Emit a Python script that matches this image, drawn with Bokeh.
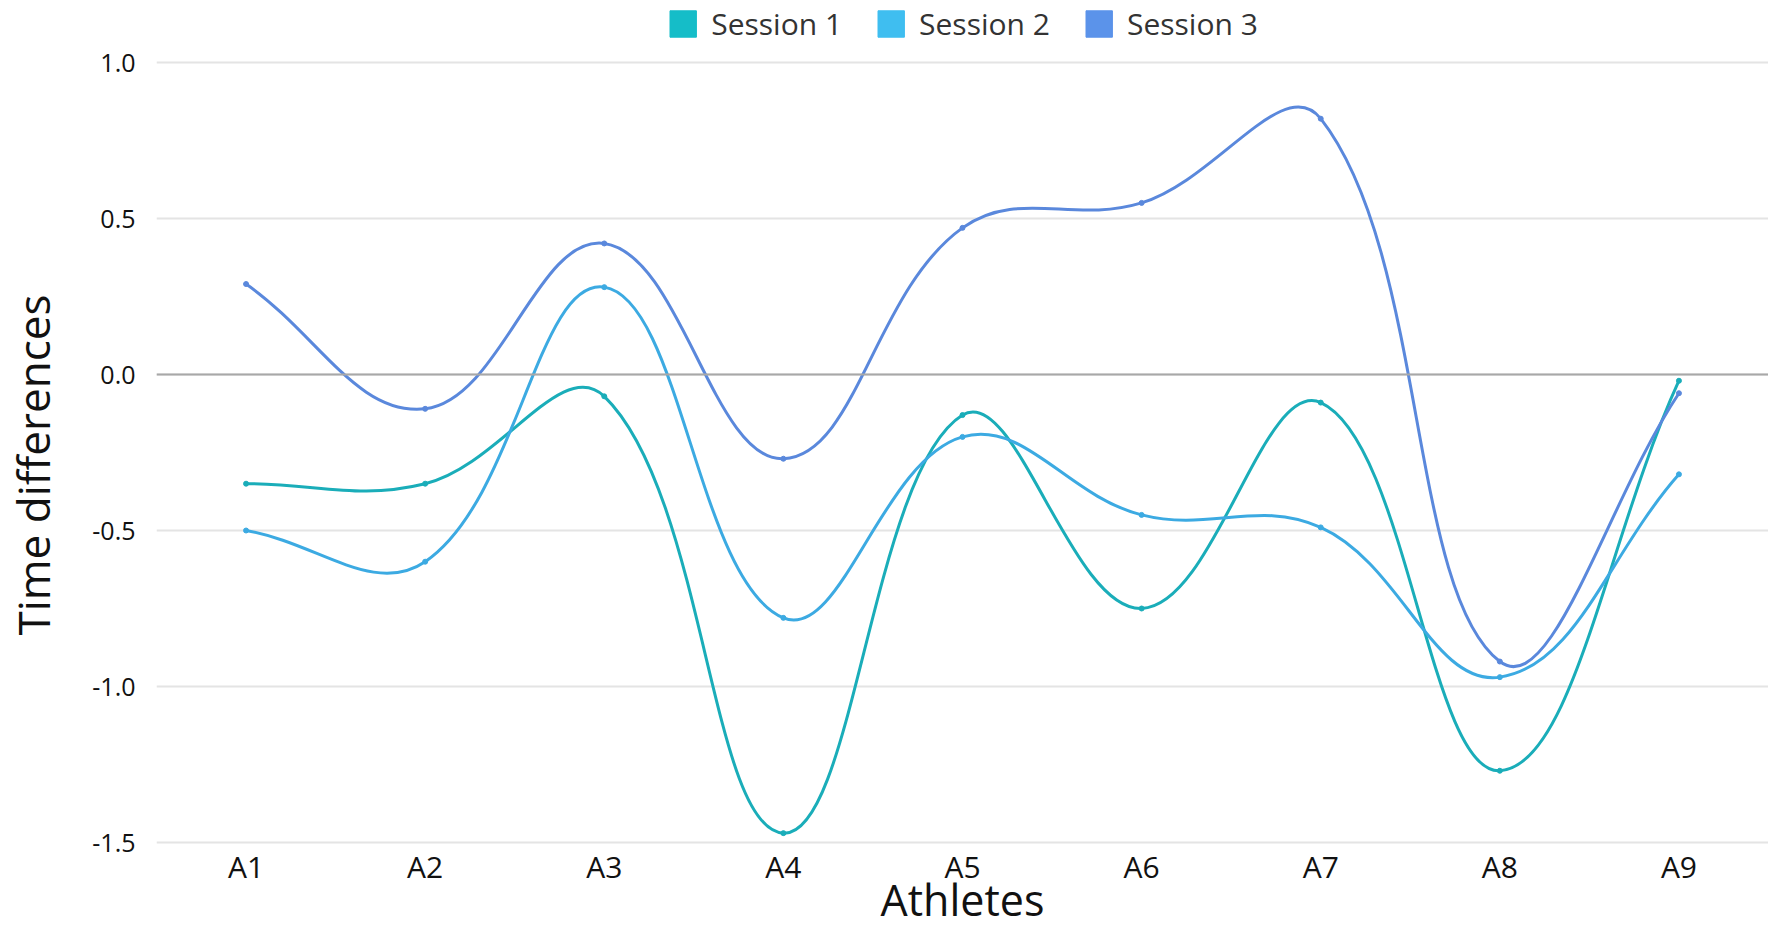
import numpy as np
from bokeh.plotting import figure
from bokeh.models import (Legend, LegendItem, FixedTicker, Span, ColumnDataSource,
                          Range1d, PrintfTickFormatter)
from bokeh.embed import file_html
from bokeh.resources import INLINE

# ---------------- data ----------------
athletes = ["A1", "A2", "A3", "A4", "A5", "A6", "A7", "A8", "A9"]
session1 = [-0.35, -0.35, -0.07, -1.47, -0.13, -0.75, -0.09, -1.27, -0.02]
session2 = [-0.50, -0.60, 0.28, -0.78, -0.20, -0.45, -0.49, -0.97, -0.32]
session3 = [0.29, -0.11, 0.42, -0.27, 0.47, 0.55, 0.82, -0.92, -0.06]
series_names = ["Session 1", "Session 2", "Session 3"]
y_ticks = [-1.5, -1.0, -0.5, 0.0, 0.5, 1.0]
x_title = "Athletes"
y_title = "Time differences"

line_colors = ["#1AADB9", "#3CAAE2", "#5A88DC"]
legend_colors = ["#15BDC8", "#3FBEF0", "#5B93EA"]

FONT = "Open Sans"

# layout constants (pixels)
FIG_W, FIG_H = 1768, 929
FRAME_TOP_PAD = 62          # space above the 1.0 gridline inside the frame (legend)
PX_X = 180.0                # approx pixels per category step
PX_Y = 312.0                # pixels per y unit
FRAME_BOTTOM_PAD = FIG_H - FRAME_TOP_PAD - PX_Y * 2.5   # x labels live here


def chartjs_spline(xs, ys, tension=0.4):
    """Bezier segments like Chart.js splineCurve (distances in pixel space)."""
    xs = np.asarray(xs, dtype=float)
    ys = np.asarray(ys, dtype=float)
    n = len(xs)
    cp_prev = []
    cp_next = []
    for i in range(n):
        pi = max(i - 1, 0)
        ni = min(i + 1, n - 1)
        d01 = np.hypot((xs[i] - xs[pi]) * PX_X, (ys[i] - ys[pi]) * PX_Y)
        d12 = np.hypot((xs[ni] - xs[i]) * PX_X, (ys[ni] - ys[i]) * PX_Y)
        tot = d01 + d12
        s01 = d01 / tot if tot else 0.0
        s12 = d12 / tot if tot else 0.0
        fa = tension * s01
        fb = tension * s12
        dx = xs[ni] - xs[pi]
        dy = ys[ni] - ys[pi]
        cp_prev.append((xs[i] - fa * dx, ys[i] - fa * dy))
        cp_next.append((xs[i] + fb * dx, ys[i] + fb * dy))
    d = dict(x0=[], y0=[], x1=[], y1=[], cx0=[], cy0=[], cx1=[], cy1=[])
    for i in range(n - 1):
        d["x0"].append(xs[i]); d["y0"].append(ys[i])
        d["x1"].append(xs[i + 1]); d["y1"].append(ys[i + 1])
        d["cx0"].append(cp_next[i][0]); d["cy0"].append(cp_next[i][1])
        d["cx1"].append(cp_prev[i + 1][0]); d["cy1"].append(cp_prev[i + 1][1])
    return d


x_pos = list(range(1, len(athletes) + 1))
y_lo, y_hi = min(y_ticks), max(y_ticks)
x_lo, x_hi = 0.5, len(athletes) + 0.5

p = figure(width=FIG_W, height=FIG_H, output_backend="svg", toolbar_location=None,
           x_range=Range1d(x_lo, x_hi),
           y_range=Range1d(y_lo - FRAME_BOTTOM_PAD / PX_Y, y_hi + FRAME_TOP_PAD / PX_Y),
           min_border_left=146, min_border_right=0, min_border_top=0,
           min_border_bottom=0)
p.outline_line_color = None
p.background_fill_color = "white"
p.border_fill_color = "white"

# grid
p.xgrid.grid_line_color = None
p.ygrid.ticker = FixedTicker(ticks=y_ticks)
p.ygrid.grid_line_color = "#E4E4E4"
p.ygrid.grid_line_width = 2
p.add_layout(Span(location=0.0, dimension="width", line_color="#A8A8A8", line_width=2))

# axes
p.xaxis.ticker = FixedTicker(ticks=x_pos)
p.xaxis.major_label_overrides = {x: a for x, a in zip(x_pos, athletes)}
p.xaxis.fixed_location = y_lo
p.yaxis.ticker = FixedTicker(ticks=y_ticks)
p.yaxis.formatter = PrintfTickFormatter(format="%.1f")
for ax in (p.xaxis[0], p.yaxis[0]):
    ax.axis_line_color = None
    ax.major_tick_line_color = None
    ax.minor_tick_line_color = None
    ax.major_label_text_font = FONT
    ax.major_label_text_color = "#111111"
    ax.axis_label_text_font = FONT
    ax.axis_label_text_font_style = "normal"
    ax.axis_label_text_color = "#111111"
p.xaxis.major_label_text_font_size = "30px"
p.yaxis.major_label_text_font_size = "25px"
p.xaxis.axis_label = x_title
p.xaxis.axis_label_text_font_size = "43px"
p.xaxis.major_label_standoff = -3
p.xaxis.axis_label_standoff = -20
p.yaxis.axis_label = y_title
p.yaxis.axis_label_text_font_size = "44px"
p.yaxis.major_label_standoff = 15
p.yaxis.axis_label_standoff = 26

# series
all_series = [session1, session2, session3]
legend_items = []
for name, vals, lc, gc in zip(series_names, all_series, line_colors, legend_colors):
    src = ColumnDataSource(chartjs_spline(x_pos, vals))
    p.bezier(x0="x0", y0="y0", x1="x1", y1="y1", cx0="cx0", cy0="cy0",
             cx1="cx1", cy1="cy1", source=src, line_color=lc, line_width=3)
    p.scatter(x_pos, vals, size=5, color=lc)
    dummy = p.quad(left=[np.nan], right=[np.nan], top=[np.nan], bottom=[np.nan],
                   fill_color=gc, line_color=gc)
    legend_items.append(LegendItem(label=name, renderers=[dummy]))

legend = Legend(items=legend_items, orientation="horizontal", location="top_center",
                glyph_width=33, glyph_height=33, label_text_font=FONT,
                label_text_font_size="30px", label_text_color="#333333",
                spacing=32, label_standoff=12, padding=0, margin=3,
                border_line_color=None, background_fill_alpha=0)
p.add_layout(legend, "center")

open("out.html", "w").write(file_html(p, INLINE))
